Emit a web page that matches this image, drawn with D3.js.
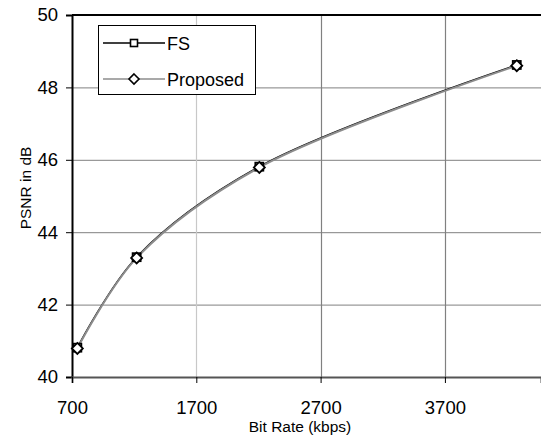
<!DOCTYPE html>
<html><head><meta charset="utf-8">
<script src="https://cdn.jsdelivr.net/npm/d3@7"></script>
<style>body{margin:0;background:#fff}svg{display:block}text{font-family:"Liberation Sans",Arial,sans-serif}</style>
</head><body>
<svg id="c" width="541" height="441"></svg>
<script>
const bitRates = [743, 1220, 2207, 4278];
const fsPSNR = [40.81, 43.31, 45.81, 48.62];
const proposedPSNR = [40.79, 43.29, 45.79, 48.6];
const xTicks = [700, 1700, 2700, 3700];
const yTicks = [40, 42, 44, 46, 48, 50];
const seriesNames = ["FS", "Proposed"];

const svg = d3.select("#c");
const x = d3.scaleLinear().domain([700, 4473]).range([72, 541]);
const y = d3.scaleLinear().domain([40, 50]).range([377, 15]);
const FONT = "Liberation Sans, Arial, sans-serif";

// gridlines
svg.append("g").selectAll("line").data(yTicks.filter(d => d > 40 && d < 50)).join("line")
  .attr("x1", 72).attr("x2", 541).attr("y1", d => y(d) + 0.5).attr("y2", d => y(d) + 0.5)
  .attr("stroke", "#808080").attr("stroke-width", 1);
svg.append("g").selectAll("line").data(xTicks.slice(1)).join("line")
  .attr("x1", d => Math.round(x(d)) + 0.5).attr("x2", d => Math.round(x(d)) + 0.5)
  .attr("y1", 15).attr("y2", 377)
  .attr("stroke", (d, i) => i === 0 ? "#c8c8c8" : "#808080").attr("stroke-width", 1.2);

// top border
svg.append("line").attr("x1", 72).attr("x2", 541).attr("y1", 15).attr("y2", 15)
  .attr("stroke", "#000").attr("stroke-width", 2);

// axes
const yAxis = d3.axisLeft(y).tickValues(yTicks).tickSize(6).tickPadding(8).tickFormat(d3.format("d"));
const gy = svg.append("g").attr("transform", "translate(72,0)").call(yAxis);
gy.select(".domain").attr("stroke", "#000").attr("stroke-width", 2);
gy.selectAll(".tick line").attr("stroke", "#000").attr("stroke-width", 1);
gy.selectAll(".tick text").attr("font-size", 18.5).attr("fill", "#000").style("font-family", FONT);

const xAxis = d3.axisBottom(x).tickValues(xTicks).tickSize(6).tickPadding(18).tickFormat(d3.format("d"));
const gx = svg.append("g").attr("transform", "translate(0,377)").call(xAxis);
gx.select(".domain").attr("stroke", "#555").attr("stroke-width", 2);
gx.selectAll(".tick line").attr("stroke", "#000").attr("stroke-width", 1);
gx.selectAll(".tick text").attr("font-size", 18.5).attr("fill", "#000").style("font-family", FONT);

// axis titles
svg.append("text").attr("x", 300).attr("y", 432).attr("text-anchor", "middle")
  .attr("font-size", 15.5).text("Bit Rate (kbps)");
svg.append("text").attr("transform", "translate(31,188) rotate(-90)").attr("text-anchor", "middle")
  .attr("font-size", 15.5).text("PSNR in dB");

// lines
const line = d3.line().x(d => x(d[0])).y(d => y(d[1])).curve(d3.curveCatmullRom.alpha(0.5));
const fsData = bitRates.map((b, i) => [b, fsPSNR[i]]);
const prData = bitRates.map((b, i) => [b, proposedPSNR[i]]);
svg.append("path").datum(fsData).attr("d", line).attr("fill", "none").attr("stroke", "#000").attr("stroke-width", 1.6);
svg.append("path").datum(prData).attr("d", line).attr("fill", "none").attr("stroke", "#8c8c8c").attr("stroke-width", 2);

// markers
const sq = 8, dm = 5.5;
svg.append("g").selectAll("rect").data(fsData).join("rect")
  .attr("x", d => x(d[0]) - sq / 2).attr("y", d => y(d[1]) - sq / 2).attr("width", sq).attr("height", sq)
  .attr("fill", "#fff").attr("stroke", "#000").attr("stroke-width", 1.8);
const diamond = (cx, cy) => `M${cx},${cy - dm}L${cx + dm},${cy}L${cx},${cy + dm}L${cx - dm},${cy}Z`;
svg.append("g").selectAll("path").data(prData).join("path")
  .attr("d", d => diamond(x(d[0]), y(d[1])))
  .attr("fill", "#fff").attr("stroke", "#000").attr("stroke-width", 1.8);

// legend
const lg = svg.append("g");
lg.append("rect").attr("x", 98.5).attr("y", 25.5).attr("width", 157).attr("height", 69)
  .attr("fill", "#fff").attr("stroke", "#000").attr("stroke-width", 1);
const rows = [43, 79];
seriesNames.forEach((name, i) => {
  const yy = rows[i];
  lg.append("line").attr("x1", 103).attr("x2", 165).attr("y1", yy).attr("y2", yy)
    .attr("stroke", i === 0 ? "#000" : "#8c8c8c").attr("stroke-width", i === 0 ? 1.6 : 1.4);
  if (i === 0) {
    lg.append("rect").attr("x", 134 - 3.5).attr("y", yy - 3.5).attr("width", 7).attr("height", 7)
      .attr("fill", "#fff").attr("stroke", "#000").attr("stroke-width", 1.6);
  } else {
    lg.append("path").attr("d", `M134,${yy - 5}L139,${yy}L134,${yy + 5}L129,${yy}Z`)
      .attr("fill", "#fff").attr("stroke", "#000").attr("stroke-width", 1.6);
  }
  lg.append("text").attr("x", 167).attr("y", yy + 6.5).attr("font-size", 18).text(name);
});
</script>
</body></html>
